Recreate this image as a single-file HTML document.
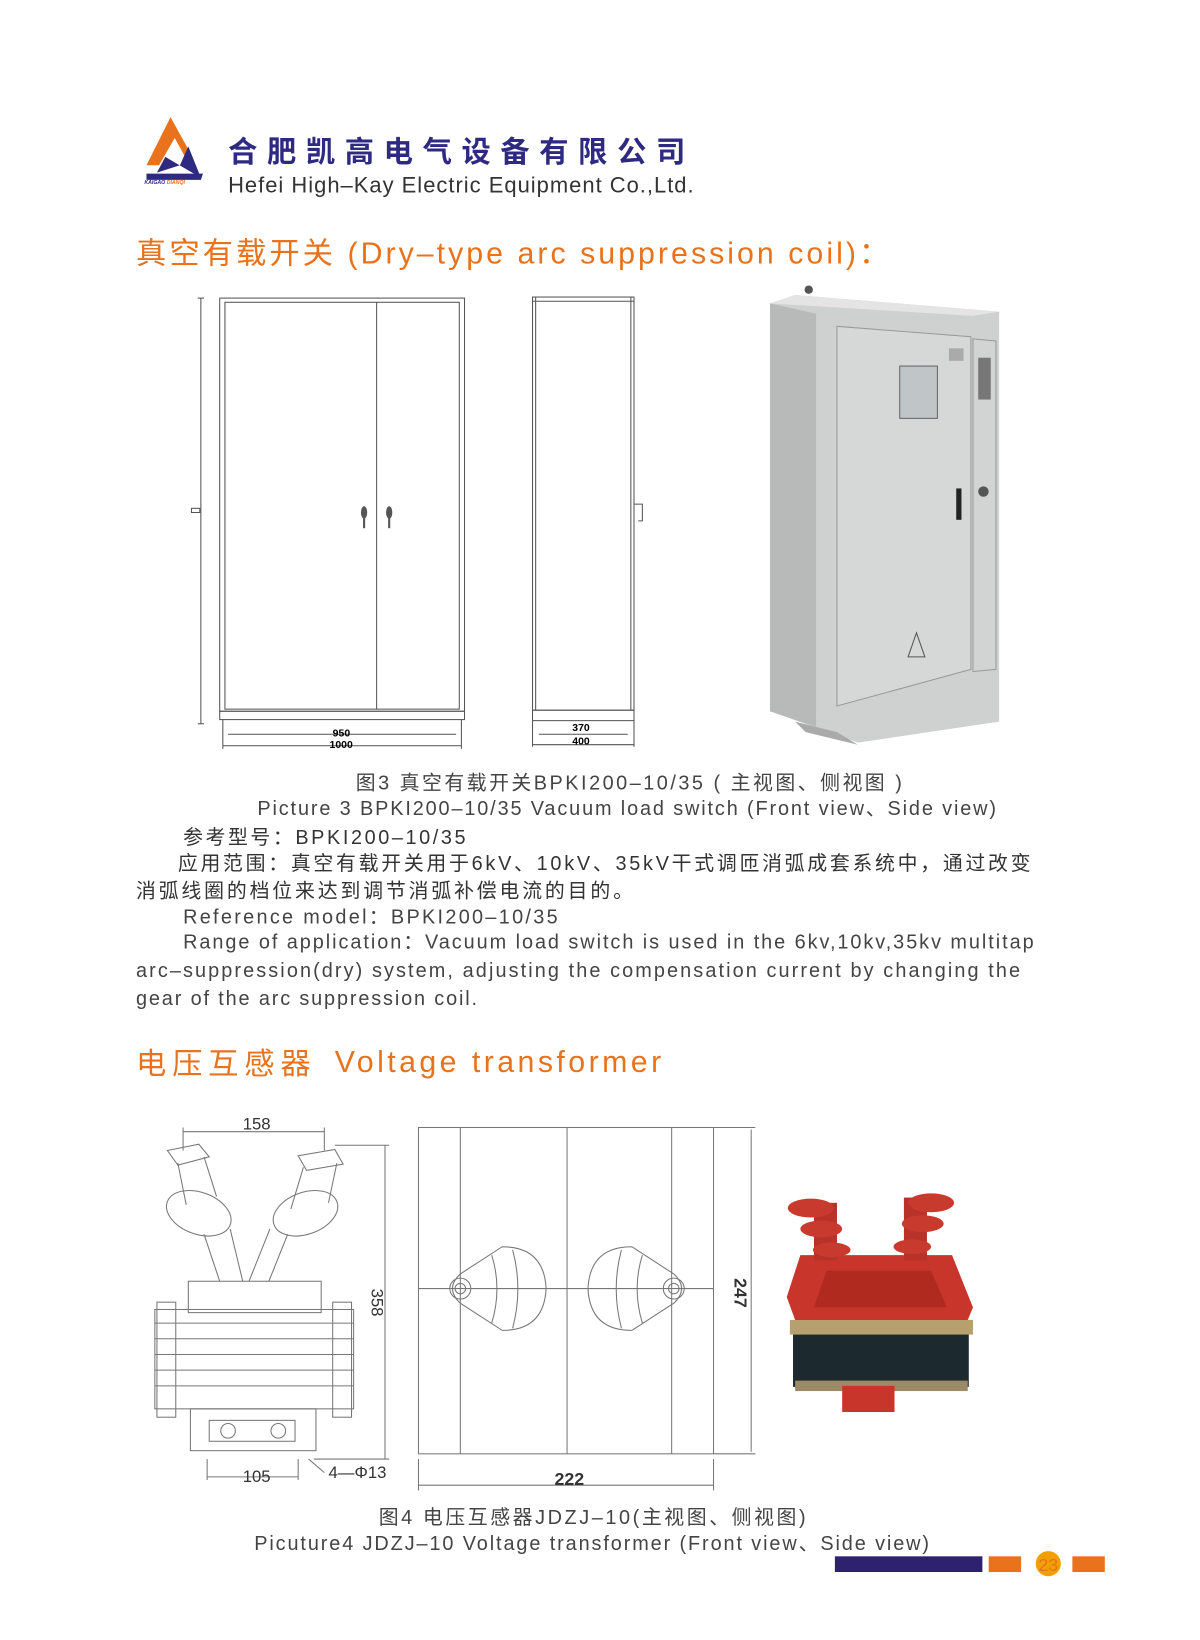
<!DOCTYPE html>
<html><head><meta charset="utf-8"><style>
html,body{margin:0;padding:0;background:#fff;}
svg{display:block}
text{font-family:"Liberation Sans","Noto Sans CJK SC",sans-serif;}
</style></head><body>
<svg width="1200" height="1640" viewBox="0 0 1147 1568" preserveAspectRatio="none" xmlns="http://www.w3.org/2000/svg">
<rect width="1147" height="1568" fill="#fff"/>
<!-- logo -->
<polygon points="163,112 140,158 152,158 167,132 178,152 184,150" fill="#e8731c"/>
<polygon points="158,150 192,170 180,140 172,158 150,165" fill="#2e2a82"/>
<polygon points="140,166 194,166 192,172 140,172" fill="#2e2a82"/>
<text x="138" y="176" font-size="5" fill="#2e2a82" font-weight="bold" font-style="italic">KAIGAO <tspan fill="#e8731c">DIANQI</tspan></text>
<text x="218" y="155" font-size="28" font-weight="bold" fill="#2e2a82" textLength="437" lengthAdjust="spacing">合肥凯高电气设备有限公司</text>
<text x="218" y="184" font-size="21" fill="#333" textLength="445" lengthAdjust="spacing">Hefei High–Kay Electric Equipment Co.,Ltd.</text>
<!-- heading 1 -->
<text x="130" y="252" font-size="29" fill="#e8731c" textLength="720" lengthAdjust="spacing">真空有载开关 (Dry–type arc suppression coil)：</text>
<!-- front view -->
<g fill="none" stroke="#555" stroke-width="1">
<line x1="192" y1="285" x2="192" y2="692"/>
<line x1="189" y1="285" x2="195" y2="285"/><line x1="189" y1="692" x2="195" y2="692"/>
<rect x="183" y="486" width="8" height="4"/>
<rect x="210" y="285" width="234" height="395"/>
<rect x="215" y="289" width="224" height="389"/>
<line x1="360" y1="289" x2="360" y2="678"/>
<rect x="210" y="680" width="234" height="8"/>
<line x1="213" y1="688" x2="213" y2="716"/><line x1="441" y1="688" x2="441" y2="716"/>
<line x1="218" y1="702" x2="436" y2="702"/>
<line x1="213" y1="713" x2="441" y2="713"/>
<!-- side view -->
<rect x="509" y="284" width="97" height="395"/>
<line x1="512" y1="284" x2="512" y2="679"/><line x1="603" y1="284" x2="603" y2="679"/>
<line x1="509" y1="288" x2="606" y2="288"/>
<rect x="509" y="679" width="97" height="10"/>
<line x1="509" y1="689" x2="509" y2="714"/><line x1="606" y1="689" x2="606" y2="714"/>
<line x1="515" y1="702" x2="600" y2="702"/>
<line x1="509" y1="712" x2="606" y2="712"/>
<path d="M606,482 h8 v16 h-4"/>
</g>
<g fill="#555"><ellipse cx="348" cy="490" rx="3" ry="6"/><ellipse cx="372" cy="490" rx="3" ry="6"/>
<rect x="347" y="495" width="2" height="10"/><rect x="371" y="495" width="2" height="10"/></g>
<text x="318" y="704" font-size="10" font-family="Liberation Serif" font-weight="bold">950</text>
<text x="315" y="715" font-size="10" font-family="Liberation Serif" font-weight="bold">1000</text>
<text x="547" y="699" font-size="10" font-family="Liberation Serif" font-weight="bold">370</text>
<text x="547" y="712" font-size="10" font-family="Liberation Serif" font-weight="bold">400</text>
<!-- cabinet photo -->
<polygon points="736,290 760,282 955,298 955,690 820,710 736,680" fill="#cfd0d0"/>
<polygon points="736,290 760,282 955,298 930,302" fill="#e4e4e4"/>
<polygon points="736,290 780,300 780,695 736,680" fill="#b8b9b9"/>
<polygon points="800,312 928,322 928,640 800,675" fill="#d6d7d7" stroke="#999"/>
<polygon points="930,324 952,326 952,640 930,642" fill="#d2d3d3" stroke="#999"/>
<rect x="860" y="350" width="36" height="50" fill="#c0c6c8" stroke="#666"/>
<rect x="907" y="333" width="14" height="12" fill="#aaa"/>
<rect x="935" y="342" width="12" height="40" fill="#777"/>
<rect x="914" y="467" width="5" height="30" fill="#222"/>
<circle cx="940" cy="470" r="5" fill="#555"/>
<polygon points="876,605 868,628 884,628" fill="none" stroke="#555"/>
<circle cx="773" cy="277" r="4" fill="#555"/>
<polygon points="760,690 800,700 820,712 770,700" fill="#aaa"/>
<!-- caption -->
<text x="340" y="755" font-size="19" fill="#444" textLength="522" lengthAdjust="spacing">图3 真空有载开关BPKI200–10/35 ( 主视图、侧视图 )</text>
<text x="246" y="779" font-size="19" fill="#444" textLength="706" lengthAdjust="spacing">Picture 3 BPKI200–10/35 Vacuum load switch (Front view、Side view)</text>
<text x="175" y="807" font-size="19" fill="#333" textLength="270" lengthAdjust="spacing">参考型号：BPKI200–10/35</text>
<text x="170" y="832" font-size="19" fill="#333" textLength="815" lengthAdjust="spacing">应用范围：真空有载开关用于6kV、10kV、35kV干式调匝消弧成套系统中，通过改变</text>
<text x="130" y="858" font-size="19" fill="#333" textLength="475" lengthAdjust="spacing">消弧线圈的档位来达到调节消弧补偿电流的目的。</text>
<text x="175" y="883" font-size="19" fill="#444" textLength="358" lengthAdjust="spacing">Reference model：BPKI200–10/35</text>
<text x="175" y="907" font-size="19" fill="#444" textLength="813" lengthAdjust="spacing">Range of application：Vacuum load switch is used in the 6kv,10kv,35kv multitap</text>
<text x="130" y="934" font-size="19" fill="#444" textLength="845" lengthAdjust="spacing">arc–suppression(dry) system, adjusting the compensation current by changing the</text>
<text x="130" y="961" font-size="19" fill="#444" textLength="326" lengthAdjust="spacing">gear of the arc suppression coil.</text>
<!-- heading 2 -->
<text x="130" y="1027" font-size="29" fill="#e8731c" textLength="167" lengthAdjust="spacing">电压互感器</text>
<text x="320" y="1025" font-size="29" fill="#e8731c" textLength="312" lengthAdjust="spacing">Voltage transformer</text>
<!-- transformer side drawing -->
<g fill="none" stroke="#777" stroke-width="1">
<line x1="175" y1="1082" x2="310" y2="1082"/>
<line x1="175" y1="1078" x2="175" y2="1100"/><line x1="310" y1="1078" x2="310" y2="1100"/>
<line x1="368" y1="1095" x2="368" y2="1395"/>
<line x1="320" y1="1095" x2="372" y2="1095"/><line x1="300" y1="1395" x2="372" y2="1395"/>
<path d="M160,1100 l30,-6 l10,12 l-30,8 z"/><path d="M170,1112 l8,40 M195,1106 l12,38"/>
<ellipse cx="190" cy="1160" rx="32" ry="20" transform="rotate(20 190 1160)"/>
<path d="M195,1180 l15,45 M220,1175 l12,50"/>
<path d="M285,1105 l35,-6 l8,14 l-35,6 z"/><path d="M290,1116 l-12,40 M322,1112 l-8,38"/>
<ellipse cx="292" cy="1160" rx="32" ry="20" transform="rotate(-20 292 1160)"/>
<path d="M275,1180 l-18,45 M258,1175 l-20,50"/>
<rect x="180" y="1225" width="127" height="30"/>
<rect x="148" y="1252" width="190" height="95"/>
<line x1="148" y1="1265" x2="338" y2="1265"/><line x1="148" y1="1280" x2="338" y2="1280"/><line x1="148" y1="1295" x2="338" y2="1295"/><line x1="148" y1="1310" x2="338" y2="1310"/><line x1="148" y1="1325" x2="338" y2="1325"/>
<rect x="150" y="1245" width="18" height="110"/><rect x="318" y="1245" width="18" height="110"/>
<rect x="182" y="1347" width="120" height="40"/>
<rect x="200" y="1358" width="82" height="20"/>
<circle cx="218" cy="1368" r="7"/><circle cx="266" cy="1368" r="7"/>
<line x1="198" y1="1412" x2="285" y2="1412"/>
<line x1="198" y1="1395" x2="198" y2="1415"/><line x1="285" y1="1395" x2="285" y2="1415"/>
<line x1="295" y1="1395" x2="310" y2="1408"/>
</g>
<text x="232" y="1080" font-size="16" font-family="Liberation Serif" fill="#333">158</text>
<text x="232" y="1417" font-size="16" font-family="Liberation Serif" fill="#333">105</text>
<text x="314" y="1413" font-size="16" font-family="Liberation Serif" fill="#333">4—Φ13</text>
<text x="0" y="0" font-size="16" font-family="Liberation Serif" fill="#333" transform="translate(355,1232) rotate(90)">358</text>
<!-- transformer front drawing -->
<g fill="none" stroke="#777" stroke-width="1">
<rect x="400" y="1078" width="282" height="312"/>
<line x1="440" y1="1078" x2="440" y2="1390"/><line x1="542" y1="1078" x2="542" y2="1390"/><line x1="642" y1="1078" x2="642" y2="1390"/>
<line x1="682" y1="1078" x2="722" y2="1078"/><line x1="682" y1="1390" x2="722" y2="1390"/>
<line x1="718" y1="1080" x2="718" y2="1388"/>
<line x1="400" y1="1232" x2="682" y2="1232"/>
<path d="M440,1218 L480,1192 Q520,1192 522,1232 Q520,1272 480,1272 L440,1246 Q425,1232 440,1218 z"/>
<circle cx="440" cy="1232" r="10"/><circle cx="440" cy="1232" r="5"/>
<path d="M470,1200 Q480,1232 470,1265 M490,1195 Q500,1232 490,1270"/>
<path d="M644,1218 L604,1192 Q564,1192 562,1232 Q564,1272 604,1272 L644,1246 Q659,1232 644,1218 z"/>
<circle cx="644" cy="1232" r="10"/><circle cx="644" cy="1232" r="5"/>
<path d="M614,1200 Q604,1232 614,1265 M594,1195 Q584,1232 594,1270"/>
<line x1="400" y1="1395" x2="400" y2="1425"/><line x1="682" y1="1395" x2="682" y2="1425"/>
<line x1="400" y1="1420" x2="682" y2="1420"/>
</g>
<text x="530" y="1420" font-size="17" font-family="Liberation Serif" font-weight="bold" fill="#333">222</text>
<text x="0" y="0" font-size="17" font-family="Liberation Serif" font-weight="bold" fill="#333" transform="translate(702,1222) rotate(90)">247</text>
<!-- transformer photo -->
<rect x="758" y="1270" width="168" height="56" fill="#1c2a30"/>
<rect x="755" y="1262" width="175" height="14" fill="#b7a070"/>
<rect x="760" y="1320" width="165" height="10" fill="#9a8a66"/>
<polygon points="765,1200 910,1200 930,1250 925,1262 760,1262 752,1240" fill="#c8352a"/>
<polygon points="790,1215 890,1215 905,1250 778,1250" fill="#b02a20"/>
<rect x="778" y="1150" width="22" height="55" fill="#b8322a"/>
<rect x="864" y="1145" width="22" height="60" fill="#b8322a"/>
<ellipse cx="775" cy="1155" rx="22" ry="9" fill="#c93a2e"/>
<ellipse cx="785" cy="1175" rx="20" ry="8" fill="#c93a2e"/>
<ellipse cx="795" cy="1195" rx="18" ry="7" fill="#c93a2e"/>
<ellipse cx="890" cy="1150" rx="22" ry="9" fill="#c93a2e"/>
<ellipse cx="882" cy="1170" rx="20" ry="8" fill="#c93a2e"/>
<ellipse cx="872" cy="1192" rx="18" ry="7" fill="#c93a2e"/>
<rect x="805" y="1325" width="50" height="25" fill="#c8352a"/>
<!-- captions -->
<text x="362" y="1457" font-size="19" fill="#444" textLength="408" lengthAdjust="spacing">图4 电压互感器JDZJ–10(主视图、侧视图)</text>
<text x="243" y="1482" font-size="19" fill="#444" textLength="645" lengthAdjust="spacing">Picuture4 JDZJ–10 Voltage transformer (Front view、Side view)</text>
<!-- footer -->
<rect x="798" y="1488" width="141" height="15" fill="#2e2270"/>
<rect x="945" y="1488" width="31" height="15" fill="#e8731c"/>
<circle cx="1002" cy="1495" r="12" fill="#f0a000"/>
<text x="1002" y="1502" font-size="17" fill="#e8731c" text-anchor="middle">23</text>
<rect x="1025" y="1488" width="31" height="15" fill="#e8731c"/>
</svg>
</body></html>
